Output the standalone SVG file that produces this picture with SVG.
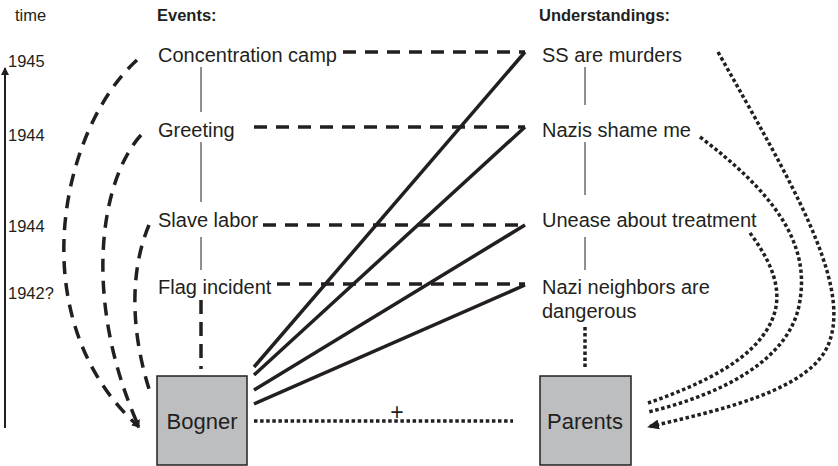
<svg xmlns="http://www.w3.org/2000/svg" width="838" height="466" viewBox="0 0 838 466">
<style>
text{font-family:"Liberation Sans",Arial,sans-serif;fill:#231f20}
.lbl{font-size:20px}
.yr{font-size:16.5px}
.hd{font-size:16.5px;font-weight:bold}
.box{fill:#bcbec0;stroke:#231f20;stroke-width:1.5}
.bx{font-size:22px;text-anchor:middle}
.thin{stroke:#231f20;stroke-width:1;fill:none}
.dash{stroke:#231f20;stroke-width:3.5;fill:none;stroke-dasharray:13 9}
.dot{stroke:#231f20;stroke-width:3.5;fill:none;stroke-dasharray:3.5 2.6}
.solid{stroke:#231f20;stroke-width:3.5;fill:none}
</style>
<defs>
<marker id="ah" markerWidth="8" markerHeight="8" refX="7" refY="4" orient="auto" markerUnits="userSpaceOnUse">
<path d="M0,0 L8,4 L0,8 Z" fill="#231f20"/>
</marker>
<marker id="ah2" markerWidth="12" markerHeight="10" refX="11" refY="5" orient="auto" markerUnits="userSpaceOnUse">
<path d="M0,0 L12,5 L0,10 Z" fill="#231f20"/>
</marker>
</defs>

<g id="headers">
<text class="yr" x="15" y="21">time</text>
<text class="hd" x="157" y="21">Events:</text>
<text class="hd" x="539" y="21">Understandings:</text>
</g>

<g id="timeline">
<line x1="5" y1="428" x2="5" y2="68" stroke="#231f20" stroke-width="2" marker-end="url(#ah)"/>
<text class="yr" x="8" y="67">1945</text>
<text class="yr" x="8" y="141">1944</text>
<text class="yr" x="8" y="232">1944</text>
<text class="yr" x="8" y="299">1942?</text>
</g>

<g id="connectors">
<line class="thin" x1="201" y1="67" x2="201" y2="112"/>
<line class="thin" x1="201" y1="142" x2="201" y2="202"/>
<line class="thin" x1="201" y1="237" x2="201" y2="270"/>
<line class="thin" x1="585" y1="67" x2="585" y2="105"/>
<line class="thin" x1="585" y1="142" x2="585" y2="195"/>
<line class="thin" x1="585" y1="237" x2="585" y2="270"/>
<line class="dash" x1="343" y1="52" x2="525" y2="52"/>
<line class="dash" x1="254" y1="127" x2="525" y2="127"/>
<line class="dash" x1="263" y1="225" x2="525" y2="225"/>
<line class="dash" x1="277" y1="284" x2="525" y2="284"/>
<line class="dash" x1="201" y1="300" x2="201" y2="369" style="stroke-dasharray:14 8"/>
<line class="solid" x1="254" y1="367" x2="525" y2="52"/>
<line class="solid" x1="254" y1="375" x2="525" y2="127"/>
<line class="solid" x1="254" y1="390" x2="525" y2="225"/>
<line class="solid" x1="254" y1="404" x2="525" y2="285"/>
<line class="dot" x1="254" y1="421" x2="513" y2="421"/>
<line class="dot" x1="585" y1="327" x2="585" y2="368"/>
<path class="dash" d="M137,60 C60,130 20,320 139,427" marker-end="url(#ah)"/>
<path class="dash" d="M141,135 C100,180 82,300 139,427" marker-end="url(#ah)"/>
<path class="dash" d="M149,225 C130,270 130,330 150,392"/>
<path class="dot" d="M718,52 C790,180 850,280 830,340 C815,390 720,410 648,427" marker-end="url(#ah2)"/>
<path class="dot" d="M700,137 C770,190 810,240 800,300 C792,360 720,395 648,412"/>
<path class="dot" d="M750,233 C770,260 785,290 772,320 C755,360 700,385 648,403"/>
</g>

<g id="plus"><text x="397" y="420" style="font-size:23px;text-anchor:middle">+</text></g>

<g id="ev-camp"><text class="lbl" x="158" y="62">Concentration camp</text></g>
<g id="ev-greeting"><text class="lbl" x="158" y="137">Greeting</text></g>
<g id="ev-slave"><text class="lbl" x="158" y="227">Slave labor</text></g>
<g id="ev-flag"><text class="lbl" x="158" y="294">Flag incident</text></g>

<g id="un-ss"><text class="lbl" x="542" y="62">SS are murders</text></g>
<g id="un-shame"><text class="lbl" x="542" y="137">Nazis shame me</text></g>
<g id="un-unease"><text class="lbl" x="542" y="227">Unease about treatment</text></g>
<g id="un-neighbors"><text class="lbl" x="542" y="294">Nazi neighbors are</text><text class="lbl" x="542" y="318">dangerous</text></g>

<g id="bogner"><rect class="box" x="157" y="376" width="90" height="89"/><text class="bx" x="202" y="429">Bogner</text></g>
<g id="parents"><rect class="box" x="540" y="376" width="91" height="89"/><text class="bx" x="585" y="429">Parents</text></g>
</svg>
